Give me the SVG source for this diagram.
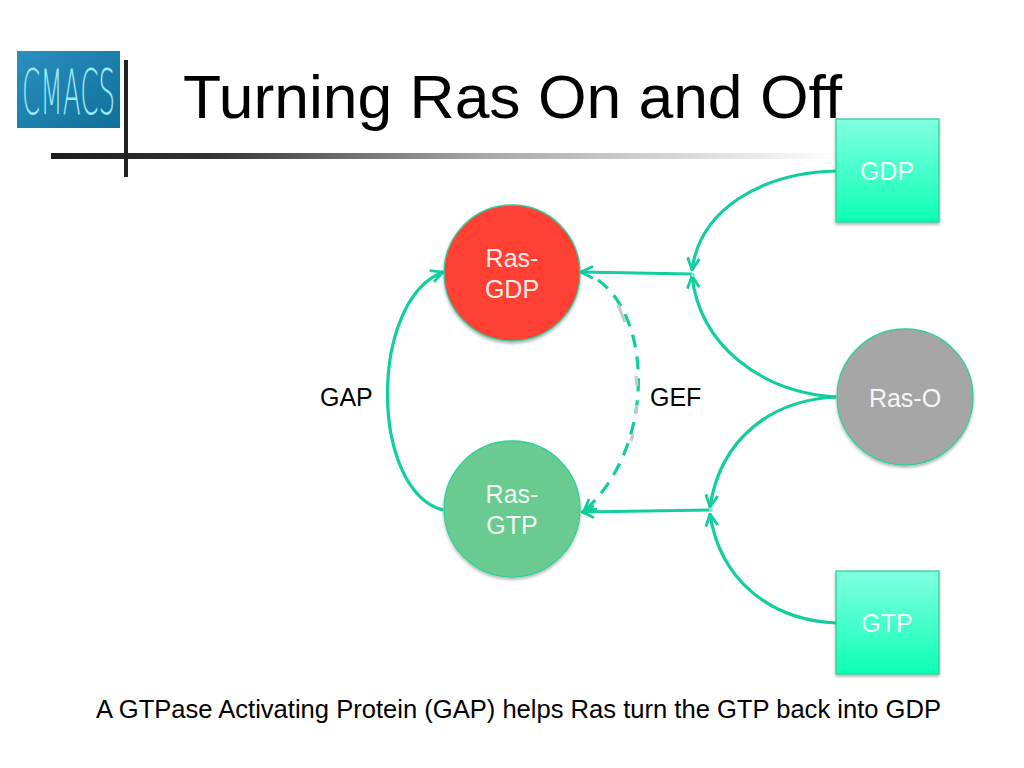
<svg xmlns="http://www.w3.org/2000/svg" width="1024" height="768" viewBox="0 0 1024 768">
<style>
text{font-family:"Liberation Sans",Arial,sans-serif}
.w{fill:#fff;font-size:25px;text-anchor:middle;fill-opacity:.93}
.b{fill:#000;font-size:25px}
.c{fill:none;stroke:#10cf9c;stroke-width:3.200}
.node{stroke:#2fcf9f;stroke-width:1.300;filter:url(#sh)}
</style>
<defs>
<linearGradient id="rule" x1="0" x2="1" y1="0" y2="0"><stop offset="0" stop-color="#1c1c1c"/><stop offset=".2" stop-color="#333"/><stop offset=".55" stop-color="#a8a8a8"/><stop offset="1" stop-color="#fff"/></linearGradient>
<linearGradient id="sq" x1="0" x2="0" y1="0" y2="1"><stop offset="0" stop-color="#80ffe0"/><stop offset="1" stop-color="#0dffb4"/></linearGradient>
<linearGradient id="logo" x1="0" x2="1" y1="0" y2="1"><stop offset="0" stop-color="#2b8fc0"/><stop offset="1" stop-color="#0f6f99"/></linearGradient>
<filter id="sh" x="-10%" y="-10%" width="120%" height="125%"><feDropShadow dx="0" dy="2" stdDeviation="1.500" flood-color="#000" flood-opacity=".3"/></filter>
<marker id="a" viewBox="0 0 16 16" refX="15" refY="8" markerWidth="16" markerHeight="16" markerUnits="userSpaceOnUse" orient="auto"><path d="M3 2L15 8L3 14" fill="none" stroke="#10cf9c" stroke-width="2.800"/></marker>
</defs>
<g id="logo-block">
<rect x="17" y="51" width="103" height="77" fill="url(#logo)"/>
<text x="22" y="114" font-size="40" fill="#9beaf4" textLength="93" lengthAdjust="spacingAndGlyphs" transform="translate(0 -62) scale(1 1.540)" style="font-family:'DejaVu Sans',sans-serif;font-weight:200">CMACS</text>
</g>
<g id="title-rules">
<rect x="51" y="153" width="790" height="6" fill="url(#rule)"/>
<rect x="124" y="60" width="4" height="117" fill="#222"/>
</g>
<text x="183" y="118" font-size="62" fill="#000" textLength="659" lengthAdjust="spacingAndGlyphs">Turning Ras On and Off</text>
<g id="connectors">
<path class="c" marker-end="url(#a)" d="M836 171C760 173 700 210 692 270"/>
<path class="c" marker-end="url(#a)" d="M836 397C760 392 700 345 692 276"/>
<path class="c" marker-end="url(#a)" d="M836 397C770 400 720 440 710 507"/>
<path class="c" marker-end="url(#a)" d="M836 623C770 620 720 580 710 514"/>
<path class="c" marker-end="url(#a)" d="M692 274L581 272"/>
<path class="c" marker-end="url(#a)" d="M710 510L582 512"/>
<path class="c" marker-end="url(#a)" d="M443 510C369 490 369 300 443 272"/>
<path class="c" stroke-dasharray="13 9" d="M598 280C654 320 654 450 584 511"/>
<path d="M618 305L625 322M636 376L637 386M637 405L636 414M633 434L631 441" fill="none" stroke="#c8c8c8" stroke-width="3.200"/>
<path d="M584 511l13-2M584 511l5-12" fill="none" stroke="#10cf9c" stroke-width="2.800"/>
<circle cx="693" cy="275" r="2" fill="#7fe8cc"/>
<circle cx="711" cy="510" r="2" fill="#7fe8cc"/>
</g>
<g id="ras-gdp"><circle class="node" cx="512" cy="273" r="68" fill="#ff4133"/><text class="w" x="512" y="267">Ras-</text><text class="w" x="512" y="298">GDP</text></g>
<g id="ras-gtp"><circle class="node" cx="512" cy="509" r="68" fill="#6bcb90"/><text class="w" x="512" y="503">Ras-</text><text class="w" x="512" y="534">GTP</text></g>
<g id="ras-o"><circle class="node" cx="905" cy="397" r="68" fill="#a6a6a6"/><text class="w" x="905" y="407">Ras-O</text></g>
<g id="gdp"><rect class="node" x="836" y="119" width="103" height="103" fill="url(#sq)"/><text class="w" x="887" y="180">GDP</text></g>
<g id="gtp"><rect class="node" x="836" y="571" width="103" height="103" fill="url(#sq)"/><text class="w" x="887" y="632">GTP</text></g>
<text class="b" x="320" y="406">GAP</text>
<text class="b" x="650" y="406">GEF</text>
<text class="b" x="96" y="718" textLength="845" lengthAdjust="spacingAndGlyphs">A GTPase Activating Protein (GAP) helps Ras turn the GTP back into GDP</text>
</svg>
